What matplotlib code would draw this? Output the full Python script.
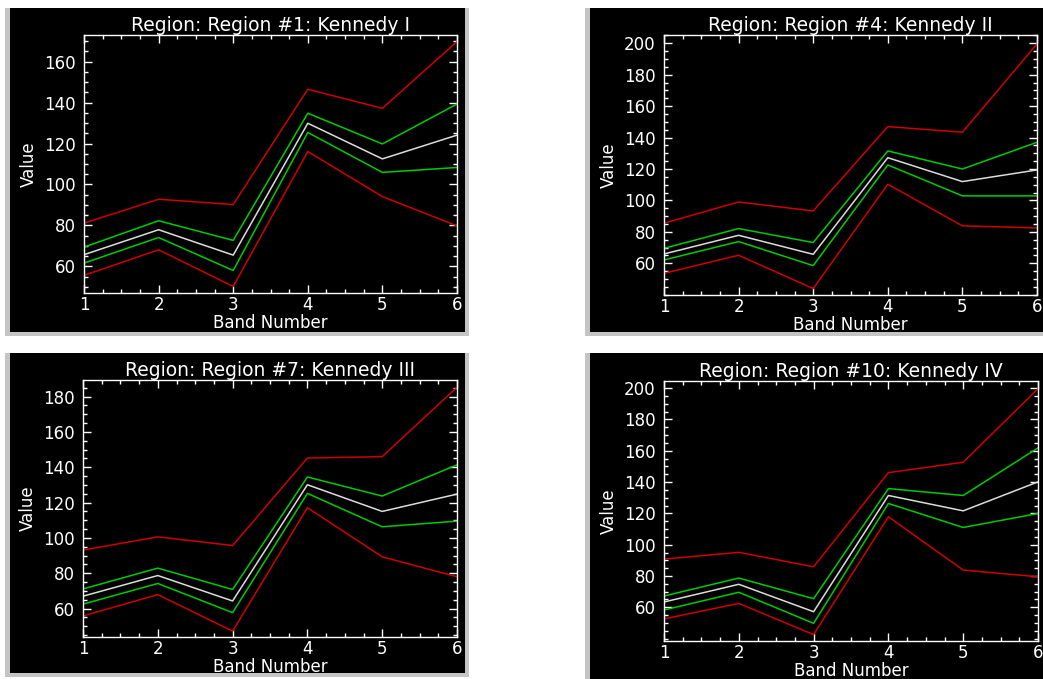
import numpy as np
import matplotlib
matplotlib.use("Agg")
from matplotlib import pyplot as plt
from matplotlib.patches import Rectangle
from matplotlib.ticker import MultipleLocator

W, H = 1043, 679

bands = [1, 2, 3, 4, 5, 6]

titles = [
    "Region: Region #1: Kennedy I",
    "Region: Region #4: Kennedy II",
    "Region: Region #7: Kennedy III",
    "Region: Region #10: Kennedy IV",
]

# region 1
r1_red_hi = [81.1, 92.8, 90.2, 146.5, 137.2, 169.8]
r1_grn_hi = [69.4, 82.3, 72.7, 134.8, 119.8, 139.3]
r1_mean = [65.7, 77.9, 65.5, 129.9, 112.5, 124.1]
r1_grn_lo = [61.6, 74.1, 58.0, 125.4, 105.9, 108.3]
r1_red_lo = [55.6, 68.1, 50.2, 116.1, 94.1, 79.8]

# region 4
r4_red_hi = [85.5, 99.0, 93.3, 147.0, 143.4, 199.6]
r4_grn_hi = [69.5, 82.1, 73.2, 131.5, 120.0, 137.0]
r4_mean = [65.9, 77.8, 65.7, 127.2, 112.0, 119.4]
r4_grn_lo = [62.1, 73.8, 58.5, 122.6, 102.9, 102.9]
r4_red_lo = [53.6, 65.1, 43.9, 110.3, 83.8, 82.5]

# region 7
r7_red_hi = [93.1, 100.6, 95.7, 145.2, 146.0, 185.3]
r7_grn_hi = [71.1, 82.9, 70.8, 134.5, 123.7, 141.4]
r7_mean = [67.0, 78.7, 64.3, 130.1, 115.0, 124.8]
r7_grn_lo = [62.5, 74.2, 57.7, 125.2, 106.3, 109.5]
r7_red_lo = [55.8, 67.9, 47.2, 117.1, 89.3, 78.0]

# region 10
r10_red_hi = [90.8, 95.1, 85.9, 146.0, 152.6, 199.6]
r10_grn_hi = [67.2, 78.7, 65.5, 135.8, 131.4, 161.8]
r10_mean = [63.4, 74.7, 57.2, 131.4, 121.6, 140.1]
r10_grn_lo = [58.3, 69.6, 49.8, 126.3, 111.0, 119.9]
r10_red_lo = [52.6, 62.5, 42.6, 117.8, 83.8, 79.5]

ylims = [(47.0, 173.0), (39.8, 205.3), (43.9, 189.4), (38.5, 204.5)]

regions = [
    (r1_red_hi, r1_grn_hi, r1_mean, r1_grn_lo, r1_red_lo),
    (r4_red_hi, r4_grn_hi, r4_mean, r4_grn_lo, r4_red_lo),
    (r7_red_hi, r7_grn_hi, r7_mean, r7_grn_lo, r7_red_lo),
    (r10_red_hi, r10_grn_hi, r10_mean, r10_grn_lo, r10_red_lo),
]
line_cols = ["#d00000", "#00cc00", "#dcdcdc", "#00cc00", "#d00000"]

# pixel boxes (x0, y0, x1, y1), y from top
bg_boxes = [(10, 8, 465, 332), (590, 8, 1043, 332), (10, 353, 465, 673), (590, 353, 1043, 679)]
ax_boxes = [(84, 35, 457, 293), (664, 35, 1037, 295), (83, 380, 457, 637), (664, 381, 1038, 641)]


def fig_rect(b):
    x0, y0, x1, y1 = b
    return [x0 / W, 1 - y1 / H, (x1 - x0) / W, (y1 - y0) / H]


plt.rcParams["font.family"] = "DejaVu Sans"
fig = plt.figure(figsize=(W / 100, H / 100), dpi=100)
fig.patch.set_facecolor("white")

for b in bg_boxes:
    x0, y0, x1, y1 = b
    # window bevel + black plot window
    fig.patches.append(Rectangle(((x0 - 5) / W, 1 - (y1 + 4) / H),
                                 (x1 - x0 + 9) / W, (y1 - y0 + 4) / H,
                                 transform=fig.transFigure, facecolor="#c4c4c4",
                                 edgecolor="none", zorder=-3))
    fig.patches.append(Rectangle((x0 / W, 1 - y1 / H), (x1 - x0) / W, (y1 - y0) / H,
                                 transform=fig.transFigure, facecolor="black",
                                 edgecolor="none", zorder=-2))

for i in range(4):
    ax = fig.add_axes(fig_rect(ax_boxes[i]))
    ax.set_facecolor("black")
    for series, c in zip(regions[i], line_cols):
        ax.plot(bands, series, color=c, lw=1.1)
    ax.set_xlim(1, 6)
    ax.xaxis.set_major_locator(MultipleLocator(1))
    ax.xaxis.set_minor_locator(MultipleLocator(0.25))
    ax.set_yticks(np.arange(60, ylims[i][1], 20))
    ax.yaxis.set_minor_locator(MultipleLocator(5))
    ax.set_ylim(*ylims[i])
    ax.tick_params(which="both", direction="in", colors="white", top=True, right=True,
                   width=1, labelsize=12)
    ax.tick_params(which="major", length=6)
    ax.tick_params(which="minor", length=3)
    ax.tick_params(axis="x", pad=2)
    ax.tick_params(axis="y", pad=6)
    for s in ax.spines.values():
        s.set_color("white")
        s.set_linewidth(1)
    ax.set_title(titles[i], color="white", fontsize=13.5, pad=3)
    ax.set_xlabel("Band Number", color="white", fontsize=12, labelpad=0)
    ax.set_ylabel("Value", color="white", fontsize=12, labelpad=4)

plt.savefig("out.png", dpi=100, facecolor=fig.get_facecolor())
